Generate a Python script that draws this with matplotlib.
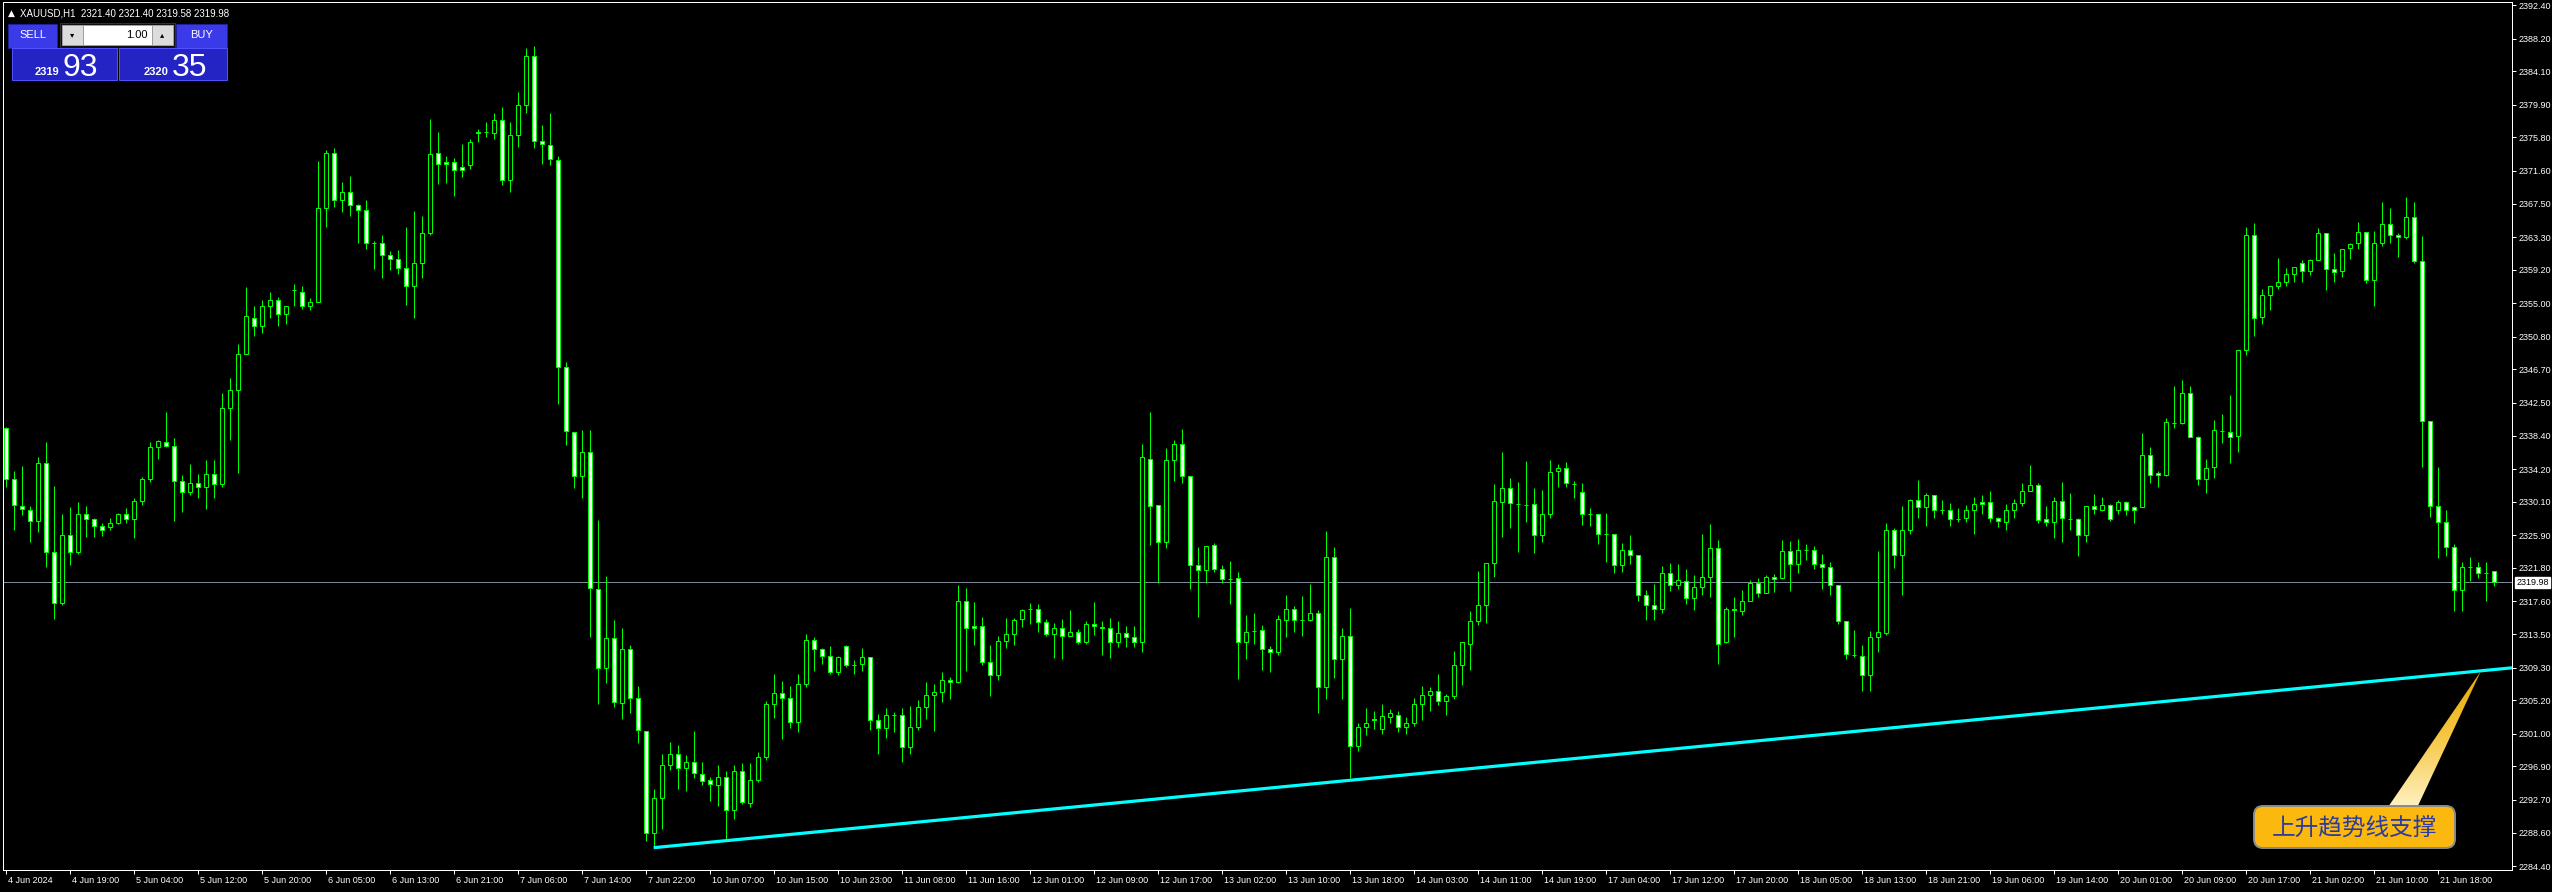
import numpy as np
import matplotlib.pyplot as plt
import matplotlib.transforms as mtransforms
from matplotlib.patches import Rectangle, FancyBboxPatch, Polygon
from matplotlib.colors import LinearSegmentedColormap

# XAUUSD H1 candles (open / high / low / close)
opens = [
    2339.3, 2333.0, 2329.6, 2329.1, 2327.7, 2335.0, 2323.8, 2317.4, 2325.9, 2323.8,
    2328.5, 2327.9, 2327.0, 2326.9, 2327.4, 2328.6, 2327.9, 2330.2, 2333.0, 2336.9,
    2337.6, 2337.1, 2332.7, 2331.3, 2332.4, 2331.9, 2333.6, 2332.3, 2341.8, 2344.1,
    2348.6, 2353.2, 2352.2, 2354.7, 2355.4, 2353.6, 2356.6, 2356.4, 2354.6, 2355.2,
    2367.0, 2373.9, 2368.0, 2369.0, 2367.3, 2366.7, 2362.5, 2362.5, 2361.1, 2360.6,
    2359.4, 2357.2, 2360.1, 2363.8, 2373.8, 2372.7, 2372.7, 2372.1, 2372.3, 2376.5,
    2376.5, 2376.4, 2378.0, 2370.5, 2376.1, 2379.8, 2386.0, 2375.3, 2374.9, 2373.0,
    2347.0, 2338.9, 2333.3, 2336.3, 2319.2, 2309.2, 2313.0, 2304.9, 2311.6, 2305.5,
    2301.3, 2288.5, 2292.9, 2297.1, 2298.5, 2296.7, 2297.4, 2296.0, 2295.2, 2294.6,
    2295.6, 2291.4, 2296.3, 2292.3, 2295.2, 2298.1, 2304.7, 2306.1, 2305.5, 2302.5,
    2307.2, 2312.7, 2311.6, 2310.7, 2308.7, 2312.0, 2309.6, 2309.7, 2310.6, 2302.7,
    2301.7, 2303.4, 2303.3, 2299.3, 2301.9, 2304.3, 2305.8, 2306.2, 2307.7, 2307.5,
    2317.7, 2314.5, 2314.5, 2310.0, 2308.3, 2312.6, 2313.5, 2315.4, 2316.6, 2316.7,
    2315.0, 2313.5, 2314.2, 2313.3, 2313.7, 2312.5, 2314.7, 2314.4, 2314.3, 2312.5,
    2313.6, 2313.1, 2312.5, 2335.5, 2329.7, 2325.1, 2335.3, 2337.3, 2333.3, 2322.1,
    2321.5, 2324.7, 2321.6, 2320.4, 2320.5, 2312.5, 2313.9, 2314.0, 2311.6, 2311.3,
    2315.3, 2316.7, 2315.3, 2315.2, 2316.1, 2306.8, 2323.1, 2310.4, 2313.3, 2299.5,
    2301.8, 2302.8, 2301.6, 2303.1, 2303.4, 2301.9, 2302.4, 2304.7, 2305.8, 2306.4,
    2305.1, 2305.7, 2309.6, 2312.3, 2315.1, 2317.1, 2322.4, 2330.1, 2331.8, 2329.8,
    2329.7, 2329.8, 2325.9, 2328.5, 2333.9, 2334.3, 2332.3, 2331.3, 2328.6, 2328.6,
    2326.1, 2326.0, 2322.2, 2324.1, 2323.4, 2318.4, 2317.1, 2316.7, 2321.1, 2319.7,
    2320.2, 2318.0, 2319.4, 2320.6, 2324.3, 2312.5, 2316.7, 2316.4, 2317.6, 2319.9,
    2318.7, 2320.7, 2320.5, 2323.9, 2322.3, 2324.1, 2324.1, 2322.3, 2321.9, 2319.7,
    2315.1, 2310.9, 2310.8, 2308.3, 2313.1, 2313.6, 2326.5, 2323.4, 2326.6, 2330.3,
    2329.4, 2330.9, 2329.1, 2329.0, 2327.9, 2328.0, 2329.1, 2330.0, 2330.0, 2328.0,
    2327.6, 2329.0, 2329.9, 2331.5, 2332.2, 2327.9, 2327.6, 2330.2, 2327.9, 2327.9,
    2325.9, 2329.5, 2329.0, 2329.7, 2329.0, 2330.0, 2329.4, 2329.4, 2335.9, 2333.7,
    2333.4, 2340.0, 2340.0, 2343.7, 2338.2, 2332.9, 2334.4, 2339.0, 2338.9, 2338.3,
    2349.1, 2363.6, 2353.3, 2356.0, 2357.2, 2357.7, 2358.7, 2360.1, 2359.0, 2360.4,
    2363.8, 2359.3, 2359.0, 2361.9, 2362.5, 2363.9, 2357.9, 2362.6, 2364.9, 2363.5,
    2363.3, 2365.8, 2360.3, 2340.2, 2329.5, 2327.6, 2324.4, 2319.0, 2321.9, 2321.9,
    2321.2, 2321.40,
]
highs = [
    2339.5, 2334.0, 2334.6, 2329.6, 2335.7, 2337.6, 2332.1, 2328.6, 2329.4, 2330.1,
    2329.6, 2328.1, 2327.4, 2328.1, 2328.7, 2329.3, 2330.6, 2333.2, 2337.6, 2337.8,
    2341.4, 2338.1, 2333.5, 2334.8, 2333.6, 2335.3, 2335.3, 2343.7, 2345.6, 2349.9,
    2357.0, 2354.7, 2355.4, 2356.4, 2355.8, 2354.7, 2357.4, 2357.2, 2355.7, 2372.8,
    2374.2, 2374.5, 2370.2, 2371.0, 2367.5, 2367.9, 2362.8, 2363.6, 2361.5, 2361.7,
    2364.6, 2366.6, 2365.9, 2378.1, 2376.5, 2373.5, 2373.2, 2375.0, 2375.6, 2376.9,
    2377.7, 2378.8, 2379.6, 2377.7, 2381.5, 2387.0, 2387.3, 2377.3, 2378.8, 2373.5,
    2347.6, 2338.9, 2339.1, 2339.1, 2327.8, 2320.8, 2315.3, 2314.3, 2312.1, 2307.0,
    2301.3, 2294.1, 2298.4, 2299.9, 2299.6, 2298.3, 2301.3, 2297.5, 2295.6, 2297.1,
    2296.3, 2297.1, 2297.3, 2297.3, 2298.7, 2305.1, 2308.5, 2307.6, 2307.0, 2308.5,
    2313.5, 2313.1, 2311.8, 2312.0, 2310.8, 2312.1, 2310.3, 2311.8, 2310.6, 2303.5,
    2304.2, 2303.7, 2304.2, 2304.5, 2305.2, 2307.5, 2307.2, 2308.7, 2308.1, 2319.7,
    2319.3, 2317.5, 2315.6, 2312.1, 2313.3, 2315.5, 2315.5, 2316.6, 2317.4, 2317.3,
    2315.4, 2314.9, 2315.4, 2316.5, 2314.1, 2315.1, 2317.5, 2315.1, 2315.5, 2315.1,
    2314.5, 2314.5, 2337.3, 2341.4, 2329.7, 2336.8, 2337.8, 2339.2, 2333.3, 2324.4,
    2324.5, 2324.9, 2322.2, 2322.6, 2321.3, 2315.9, 2316.1, 2314.6, 2312.0, 2315.9,
    2318.4, 2317.0, 2318.3, 2319.8, 2316.5, 2326.4, 2324.4, 2314.3, 2316.8, 2302.3,
    2304.2, 2303.9, 2304.7, 2304.1, 2303.9, 2303.1, 2305.5, 2307.0, 2306.9, 2308.5,
    2306.0, 2311.4, 2312.5, 2316.4, 2321.4, 2322.4, 2332.3, 2336.3, 2333.1, 2332.6,
    2335.2, 2331.8, 2331.6, 2335.3, 2334.8, 2335.1, 2332.7, 2332.4, 2329.3, 2328.6,
    2328.7, 2326.0, 2324.9, 2325.9, 2323.4, 2319.0, 2319.8, 2322.0, 2322.4, 2322.3,
    2321.7, 2320.9, 2326.1, 2327.3, 2325.3, 2316.9, 2318.2, 2319.0, 2320.3, 2320.5,
    2320.9, 2321.0, 2325.3, 2325.2, 2325.4, 2324.8, 2324.6, 2323.5, 2322.5, 2319.7,
    2315.1, 2314.0, 2312.1, 2313.9, 2323.9, 2327.4, 2326.8, 2329.6, 2330.4, 2332.8,
    2331.2, 2330.9, 2330.3, 2329.9, 2329.3, 2329.7, 2330.7, 2330.9, 2331.4, 2328.2,
    2329.8, 2330.4, 2332.5, 2334.7, 2332.4, 2329.6, 2330.7, 2332.6, 2331.2, 2328.1,
    2329.5, 2331.1, 2330.7, 2329.8, 2330.3, 2330.2, 2329.6, 2338.7, 2336.9, 2334.0,
    2340.6, 2344.6, 2345.4, 2344.6, 2338.3, 2335.4, 2340.4, 2341.1, 2343.5, 2349.1,
    2364.6, 2365.1, 2356.8, 2357.1, 2360.7, 2359.4, 2359.6, 2360.4, 2360.6, 2364.4,
    2363.8, 2361.3, 2361.8, 2362.6, 2365.2, 2363.9, 2364.1, 2367.7, 2366.9, 2363.8,
    2368.3, 2367.7, 2363.4, 2340.2, 2334.5, 2329.1, 2324.8, 2322.5, 2323.2, 2322.5,
    2322.5, 2321.40,
]
lows = [
    2332.0, 2326.6, 2328.4, 2325.0, 2326.3, 2321.9, 2315.4, 2317.2, 2322.2, 2323.5,
    2325.7, 2325.7, 2325.8, 2326.6, 2327.3, 2327.4, 2325.6, 2329.7, 2332.6, 2335.5,
    2336.9, 2327.7, 2328.8, 2331.0, 2330.6, 2329.2, 2330.6, 2331.9, 2337.8, 2333.7,
    2348.6, 2350.9, 2351.3, 2353.1, 2352.2, 2352.4, 2354.7, 2354.3, 2354.1, 2355.1,
    2364.6, 2367.1, 2366.4, 2365.9, 2362.6, 2361.8, 2359.3, 2358.1, 2359.1, 2358.7,
    2354.8, 2353.1, 2358.1, 2363.6, 2369.9, 2370.1, 2368.5, 2370.8, 2371.8, 2375.2,
    2375.8, 2375.6, 2369.8, 2368.9, 2374.6, 2378.8, 2374.5, 2372.4, 2372.3, 2342.3,
    2337.2, 2331.8, 2330.6, 2313.1, 2304.7, 2307.4, 2304.3, 2302.8, 2303.6, 2299.8,
    2287.6, 2286.7, 2289.0, 2296.4, 2294.1, 2293.8, 2295.4, 2294.6, 2292.5, 2291.9,
    2287.7, 2290.3, 2292.2, 2291.8, 2295.0, 2297.7, 2303.0, 2300.3, 2301.7, 2301.2,
    2306.8, 2308.8, 2309.7, 2308.5, 2308.3, 2309.4, 2308.5, 2308.8, 2301.4, 2298.5,
    2300.5, 2301.2, 2297.5, 2298.5, 2301.4, 2302.9, 2301.3, 2305.0, 2305.3, 2307.3,
    2308.9, 2312.1, 2309.6, 2305.7, 2307.7, 2311.8, 2312.1, 2314.4, 2314.8, 2313.7,
    2313.2, 2310.5, 2310.4, 2313.3, 2312.2, 2312.2, 2313.4, 2310.9, 2310.5, 2311.9,
    2311.9, 2311.9, 2311.3, 2324.7, 2319.9, 2324.3, 2332.7, 2332.5, 2319.1, 2315.6,
    2319.9, 2321.3, 2319.9, 2317.3, 2307.9, 2310.4, 2312.3, 2309.0, 2308.7, 2310.9,
    2313.1, 2313.7, 2313.2, 2315.1, 2303.6, 2305.3, 2308.0, 2305.4, 2295.5, 2298.8,
    2300.8, 2301.6, 2300.9, 2302.3, 2301.2, 2301.0, 2302.0, 2302.7, 2303.9, 2304.6,
    2303.3, 2305.3, 2307.1, 2309.0, 2314.6, 2314.9, 2320.6, 2325.7, 2326.8, 2323.8,
    2327.6, 2323.7, 2325.1, 2328.1, 2331.9, 2331.9, 2330.6, 2327.2, 2327.1, 2324.8,
    2322.5, 2321.2, 2321.3, 2322.3, 2317.6, 2315.2, 2315.3, 2316.2, 2318.9, 2319.2,
    2317.3, 2316.5, 2318.4, 2318.1, 2309.7, 2312.4, 2313.1, 2315.9, 2317.6, 2318.2,
    2318.7, 2318.8, 2320.5, 2318.9, 2321.2, 2322.8, 2321.6, 2319.1, 2318.4, 2314.7,
    2310.4, 2310.6, 2306.3, 2306.4, 2311.2, 2313.4, 2321.8, 2318.4, 2326.1, 2328.0,
    2327.1, 2328.1, 2328.5, 2327.1, 2327.6, 2327.6, 2326.1, 2328.5, 2327.6, 2326.9,
    2326.5, 2328.1, 2329.5, 2331.5, 2327.4, 2327.1, 2325.5, 2325.0, 2326.5, 2323.3,
    2325.0, 2328.5, 2328.9, 2327.7, 2328.6, 2328.4, 2327.4, 2329.4, 2332.5, 2332.0,
    2333.3, 2339.4, 2339.9, 2338.2, 2332.2, 2331.2, 2333.1, 2337.4, 2335.0, 2336.3,
    2348.5, 2350.9, 2352.4, 2354.2, 2356.8, 2357.2, 2357.7, 2357.7, 2358.5, 2360.4,
    2356.7, 2357.7, 2358.3, 2360.6, 2361.8, 2357.5, 2354.7, 2362.2, 2362.5, 2360.8,
    2363.1, 2360.0, 2334.4, 2328.2, 2323.0, 2323.3, 2316.4, 2316.4, 2320.1, 2320.5,
    2317.6, 2319.58,
]
closes = [
    2333.0, 2329.7, 2329.2, 2327.7, 2334.9, 2323.8, 2317.4, 2325.9, 2323.8, 2328.5,
    2327.9, 2327.1, 2326.6, 2327.4, 2328.6, 2327.9, 2330.2, 2333.0, 2336.9, 2337.7,
    2337.1, 2332.7, 2331.3, 2332.4, 2331.9, 2333.6, 2332.3, 2341.8, 2344.1, 2348.6,
    2353.4, 2352.2, 2354.7, 2355.4, 2353.6, 2354.7, 2356.6, 2354.6, 2355.2, 2367.0,
    2373.9, 2368.0, 2369.0, 2367.3, 2366.7, 2362.5, 2362.5, 2361.1, 2360.6, 2359.4,
    2357.1, 2360.1, 2363.8, 2373.7, 2372.4, 2372.4, 2371.7, 2371.7, 2375.2, 2376.3,
    2376.5, 2378.0, 2370.5, 2376.1, 2379.8, 2386.0, 2375.4, 2375.0, 2373.1, 2347.0,
    2339.0, 2333.3, 2336.3, 2319.3, 2309.3, 2313.0, 2305.0, 2311.6, 2305.5, 2301.4,
    2288.5, 2292.9, 2297.1, 2298.5, 2296.7, 2297.4, 2296.1, 2295.1, 2294.7, 2295.6,
    2291.4, 2296.3, 2292.4, 2295.2, 2298.1, 2304.7, 2306.1, 2305.5, 2302.5, 2307.2,
    2312.7, 2311.6, 2310.8, 2308.7, 2310.6, 2309.6, 2309.6, 2310.6, 2302.7, 2301.7,
    2303.4, 2303.4, 2299.3, 2301.8, 2304.3, 2305.8, 2306.2, 2307.7, 2307.5, 2317.7,
    2314.3, 2314.2, 2310.0, 2308.3, 2312.6, 2313.5, 2315.2, 2316.5, 2316.6, 2315.0,
    2313.5, 2314.2, 2313.3, 2313.7, 2312.5, 2314.7, 2314.5, 2314.2, 2312.5, 2313.6,
    2313.1, 2312.5, 2335.7, 2329.5, 2325.1, 2335.3, 2337.3, 2333.3, 2322.1, 2321.5,
    2324.5, 2321.6, 2320.4, 2320.4, 2312.5, 2313.8, 2313.9, 2311.6, 2311.3, 2315.4,
    2316.7, 2315.3, 2315.3, 2316.1, 2306.8, 2323.1, 2310.4, 2313.3, 2299.5, 2301.8,
    2302.3, 2302.7, 2303.2, 2303.6, 2301.9, 2302.4, 2304.7, 2305.8, 2306.4, 2305.1,
    2305.7, 2309.6, 2312.5, 2315.1, 2317.1, 2322.4, 2330.2, 2331.8, 2329.9, 2329.8,
    2329.7, 2325.9, 2328.5, 2333.8, 2334.3, 2332.4, 2332.3, 2328.5, 2328.5, 2326.1,
    2326.0, 2322.2, 2324.1, 2323.4, 2318.4, 2317.1, 2316.7, 2321.1, 2319.7, 2320.3,
    2318.0, 2319.4, 2320.6, 2324.3, 2312.3, 2316.6, 2316.5, 2317.6, 2319.9, 2318.7,
    2320.7, 2320.4, 2323.9, 2322.3, 2324.1, 2324.1, 2322.3, 2321.9, 2319.7, 2315.1,
    2311.0, 2310.9, 2308.3, 2313.1, 2313.7, 2326.5, 2323.4, 2326.6, 2330.3, 2329.4,
    2331.0, 2329.1, 2329.1, 2327.9, 2327.9, 2329.1, 2329.8, 2329.8, 2328.0, 2327.7,
    2329.0, 2329.9, 2331.5, 2332.2, 2327.8, 2327.6, 2330.2, 2328.0, 2327.9, 2325.9,
    2329.5, 2329.2, 2329.7, 2327.9, 2330.0, 2329.0, 2329.0, 2335.9, 2333.4, 2333.4,
    2340.1, 2340.0, 2343.7, 2338.2, 2332.9, 2334.3, 2339.1, 2339.0, 2338.2, 2349.1,
    2363.5, 2353.2, 2356.0, 2357.1, 2357.7, 2358.7, 2359.6, 2359.0, 2360.4, 2363.8,
    2359.3, 2358.9, 2361.8, 2362.4, 2363.9, 2357.9, 2362.6, 2364.9, 2363.5, 2363.3,
    2365.8, 2360.3, 2340.2, 2329.5, 2327.6, 2324.4, 2319.0, 2321.9, 2321.9, 2321.1,
    2321.2, 2319.98,
]

time_labels = [
    "4 Jun 2024", "4 Jun 19:00", "5 Jun 04:00", "5 Jun 12:00", "5 Jun 20:00",
    "6 Jun 05:00", "6 Jun 13:00", "6 Jun 21:00", "7 Jun 06:00", "7 Jun 14:00",
    "7 Jun 22:00", "10 Jun 07:00", "10 Jun 15:00", "10 Jun 23:00", "11 Jun 08:00",
    "11 Jun 16:00", "12 Jun 01:00", "12 Jun 09:00", "12 Jun 17:00", "13 Jun 02:00",
    "13 Jun 10:00", "13 Jun 18:00", "14 Jun 03:00", "14 Jun 11:00", "14 Jun 19:00",
    "17 Jun 04:00", "17 Jun 12:00", "17 Jun 20:00", "18 Jun 05:00", "18 Jun 13:00",
    "18 Jun 21:00", "19 Jun 06:00", "19 Jun 14:00", "20 Jun 01:00", "20 Jun 09:00",
    "20 Jun 17:00", "21 Jun 02:00", "21 Jun 10:00", "21 Jun 18:00",
]
price_ticks = [
    2392.40, 2388.20, 2384.10, 2379.90, 2375.80, 2371.60, 2367.50, 2363.30, 2359.20,
    2355.00, 2350.80, 2346.70, 2342.50, 2338.40, 2334.20, 2330.10, 2325.90, 2321.80,
    2317.60, 2313.50, 2309.30, 2305.20, 2301.00, 2296.90, 2292.70, 2288.60, 2284.40,
]
bid_line_price = 2319.98
panel_bid = "2319.93"
panel_ask = "2320.35"
header_text = "XAUUSD,H1  2321.40 2321.40 2319.58 2319.98"
lot_size = "1.00"
# trendline anchors (bar index, price)
trend_a = (81, 2286.7)
trend_b = (168, 2295.15)
callout_text = "上升趋势线支撑"

plt.rcParams['font.family'] = ['Liberation Sans', 'DejaVu Sans']

W, H = 2552, 892
PX = 0.72  # one pixel in points at dpi 100
GREEN = '#00ff00'

fig = plt.figure(figsize=(W / 100, H / 100), dpi=100, facecolor='black')
ax = fig.add_axes([3 / W, 22 / H, (2512 - 3) / W, (870 - 2) / H])
ax.set_facecolor('black')

o = np.array(opens)
h = np.array(highs)
l = np.array(lows)
c = np.array(closes)
x = np.arange(len(o))
up = c >= o

ax.vlines(x, l, h, color=GREEN, lw=PX, zorder=2)
ax.bar(x, np.abs(c - o), bottom=np.minimum(o, c), width=0.52,
       color=np.where(up, 'black', 'white'), edgecolor=GREEN, linewidth=PX, zorder=3)

# bid line
ax.axhline(bid_line_price, color='#7a8899', lw=PX, zorder=1)

# trendline (ray to the right edge)
x_right = 313.3
slope = (trend_b[1] - trend_a[1]) / (trend_b[0] - trend_a[0])
ax.plot([trend_a[0], x_right], [trend_a[1], trend_a[1] + slope * (x_right - trend_a[0])],
        color='#00ffff', lw=2.3, solid_capstyle='butt', zorder=4)

ax.set_xlim(-0.33, x_right)
ax.set_ylim(2283.90, 2392.78)

for s in ax.spines.values():
    s.set_color('white')
    s.set_linewidth(PX)

ax.yaxis.tick_right()
ax.set_yticks(price_ticks)
ax.set_yticklabels([f"{p:.2f}" for p in price_ticks])
ax.tick_params(axis='y', colors='white', labelcolor='white', length=3, width=PX,
               pad=2, labelsize=6.5)

ax.set_xticks(np.arange(0, len(time_labels) * 8, 8))
ax.set_xticklabels(time_labels)
ax.tick_params(axis='x', colors='white', labelcolor='white', length=3, width=PX,
               pad=1.5, labelsize=6.5)
offset = mtransforms.ScaledTranslation(2 / 100, 0, fig.dpi_scale_trans)
for lab in ax.get_xticklabels():
    lab.set_horizontalalignment('left')
    lab.set_transform(lab.get_transform() + offset)

ax.annotate(f"{bid_line_price:.2f}", xy=(1, bid_line_price),
            xycoords=('axes fraction', 'data'),
            xytext=(3, 0), textcoords='offset points', va='center', ha='left',
            fontsize=6.5, color='black', zorder=10, annotation_clip=False,
            bbox=dict(boxstyle='square,pad=0.15', fc='white', ec='white'))

# overlay in pixel coordinates for the trade panel and the callout
ov = fig.add_axes([0, 0, 1, 1], zorder=5)
ov.axis('off')
ov.patch.set_alpha(0)

ov.text(8, 13, '\u25b2', color='white', fontsize=6.5, va='center', ha='left',
        family=['DejaVu Sans'])
ov.text(20, 13, header_text, color='white', fontsize=7, va='center', ha='left')

# SELL / lot / BUY row
ov.add_patch(Rectangle((8, 24), 49, 24, fc='#3a3ae8', ec='#20209a', lw=PX))
ov.text(32.5, 35, 'SELL', color='white', fontsize=8, ha='center', va='center')
ov.add_patch(Rectangle((60, 23), 115, 25, fc='#101010', ec='#303030', lw=PX))
ov.add_patch(Rectangle((62, 25), 21, 20, fc='#dcdcdc', ec='#a0a0a0', lw=PX))
ov.add_patch(Rectangle((83, 25), 69, 20, fc='white', ec='#a0a0a0', lw=PX))
ov.add_patch(Rectangle((152, 25), 21, 20, fc='#dcdcdc', ec='#a0a0a0', lw=PX))
ov.text(72.5, 35, '\u25be', color='black', fontsize=6, ha='center', va='center',
        family=['DejaVu Sans'])
ov.text(162.5, 35, '\u25b4', color='black', fontsize=6, ha='center', va='center',
        family=['DejaVu Sans'])
ov.text(148, 35, lot_size, color='black', fontsize=8, ha='right', va='center')
ov.add_patch(Rectangle((176, 24), 51, 24, fc='#3a3ae8', ec='#20209a', lw=PX))
ov.text(201.5, 35, 'BUY', color='white', fontsize=8, ha='center', va='center')

# price blocks
ov.add_patch(Rectangle((12, 48), 105, 32, fc='#2424c4', ec='#5050ff', lw=PX))
ov.add_patch(Rectangle((119, 48), 108, 32, fc='#2424c4', ec='#5050ff', lw=PX))
ov.text(59, 75, panel_bid[:4], color='white', fontsize=8, fontweight='bold',
        ha='right', va='baseline')
ov.text(62, 76, panel_bid[5:], color='white', fontsize=23, ha='left', va='baseline')
ov.text(169, 75, panel_ask[:4], color='white', fontsize=8, fontweight='bold',
        ha='right', va='baseline')
ov.text(172, 76, panel_ask[5:], color='white', fontsize=23, ha='left', va='baseline')

# callout pointer with gradient
tip = (2481, 671)
wedge = Polygon([(2386, 810), (2416, 810), tip], closed=True, fc='none', ec='none')
ov.add_patch(wedge)
grad = np.linspace(0, 1, 256).reshape(-1, 1)
cmap = LinearSegmentedColormap.from_list('ptr', ['#e9a800', '#f6c94a', '#fff3c8'])
im = ov.imshow(grad, extent=(2386, 2481, 810, 671), cmap=cmap, aspect='auto',
               interpolation='bilinear', zorder=6)
im.set_clip_path(wedge)

box = FancyBboxPatch((2258, 810), 193, 34, boxstyle='round,pad=4,rounding_size=9',
                     fc='#fbb80f', ec='#8a8a8a', lw=1.4, zorder=7)
ov.add_patch(box)
ov.text(2354.5, 828, callout_text, color='#2b3c9e', fontsize=17, ha='center',
        va='center', family=['Noto Sans CJK SC', 'DejaVu Sans'], zorder=8)

ov.set_xlim(0, W)
ov.set_ylim(H, 0)

fig.savefig('out.png', dpi=100, facecolor='black')
